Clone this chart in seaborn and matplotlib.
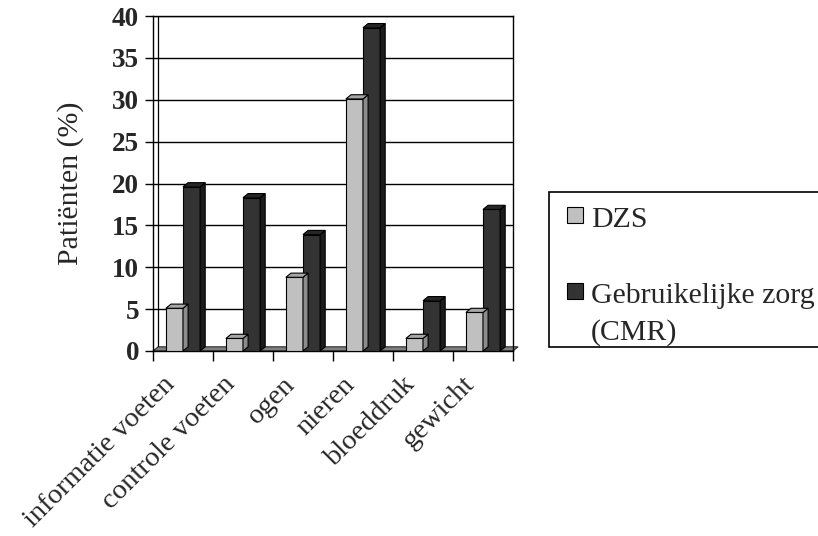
import numpy as np
import pandas as pd
import matplotlib
matplotlib.use('Agg')
import matplotlib.pyplot as plt
import seaborn as sns
from matplotlib.patches import Polygon, Rectangle

sns.set_style('white')
plt.rcParams['font.family'] = ['Liberation Serif', 'DejaVu Serif']

categories = ['informatie voeten', 'controle voeten', 'ogen', 'nieren', 'bloeddruk', 'gewicht']
series = ['DZS', 'Gebruikelijke zorg\n(CMR)']
dzs = [5.1, 1.5, 8.8, 30.1, 1.5, 4.6]
cmr = [19.6, 18.3, 13.9, 38.6, 6.0, 16.9]
y_ticks = [0, 5, 10, 15, 20, 25, 30, 35, 40]

colors = ['#c0c0c0', '#333333']
side_colors = ['#8c8c8c', '#1c1c1c']
top_colors = ['#a6a6a6', '#262626']

df = pd.DataFrame({
    'cat': categories * 2,
    'serie': [series[0]] * len(categories) + [series[1]] * len(categories),
    'val': dzs + cmr,
})

fig = plt.figure(figsize=(8.18, 5.36), dpi=100)
ax = fig.add_axes([153 / 818, 1 - 351 / 536, 360 / 818, 335 / 536])

sns.barplot(data=df, x='cat', y='val', hue='serie', order=categories, hue_order=series,
            palette=colors, width=0.57, edgecolor='black', linewidth=0.8,
            legend=False, ax=ax, zorder=3)

ax.set_xlim(-0.5, 5.5)
ax.set_ylim(0, 40)

# pseudo 3D depth offsets (data units)
dx, dy = 0.085, 0.5

# side and top faces for each bar
for s, cont in enumerate(ax.containers):
    for p in cont:
        x0 = p.get_x()
        x1 = x0 + p.get_width()
        h = p.get_height()
        ax.add_patch(Polygon([(x1, 0), (x1 + dx, dy), (x1 + dx, h + dy), (x1, h)], closed=True,
                             facecolor=side_colors[s], edgecolor='black', linewidth=0.8, zorder=3))
        ax.add_patch(Polygon([(x0, h), (x0 + dx, h + dy), (x1 + dx, h + dy), (x1, h)], closed=True,
                             facecolor=top_colors[s], edgecolor='black', linewidth=0.8, zorder=3))

# floor
ax.add_patch(Polygon([(-0.5, 0), (5.5, 0), (5.5 + dx, dy), (-0.5 + dx, dy)], closed=True,
                     facecolor='#7f7f7f', edgecolor='black', linewidth=0.6, zorder=2, clip_on=False))
# back wall left edge
ax.plot([-0.5 + dx, -0.5 + dx], [dy, 40], color='black', linewidth=0.9, zorder=1)

ax.set_yticks(y_ticks)
ax.set_yticklabels([str(t) for t in y_ticks], fontsize=19.5, fontweight='bold')
ax.yaxis.grid(True, color='black', linewidth=1.0, zorder=0)
ax.set_axisbelow(True)

# category labels sit a bit left of the category centre, as in the original
ax.set_xticks(np.arange(len(categories)) - 0.35)
ax.set_xticklabels(categories, rotation=45, ha='right', rotation_mode='anchor', fontsize=20.5)
ax.set_xticks(np.arange(-0.5, 5.6, 1), minor=True)
ax.tick_params(axis='x', which='major', length=0, pad=15)
ax.tick_params(axis='x', which='minor', length=7, width=1, color='black', direction='out', bottom=True)
ax.tick_params(axis='y', length=6, width=1, color='black', direction='out', left=True, pad=4)

for sp in ax.spines.values():
    sp.set_color('black')
    sp.set_linewidth(1.0)

ax.set_xlabel('')
ax.set_ylabel('Patiënten (%)', fontsize=21.5, labelpad=20)

# legend box drawn in pixel coordinates
lax = fig.add_axes([0, 0, 1, 1], zorder=5)
lax.set_xlim(0, 818)
lax.set_ylim(536, 0)
lax.axis('off')
lax.add_patch(Rectangle((549, 192), 300, 155, facecolor='white', edgecolor='black', linewidth=1.2))
lax.add_patch(Rectangle((567, 207), 16, 16, facecolor=colors[0], edgecolor='black', linewidth=0.8))
lax.add_patch(Rectangle((567, 283), 16, 16, facecolor=colors[1], edgecolor='black', linewidth=0.8))
lax.text(591, 227, series[0], fontsize=21.5, va='baseline', ha='left')
lax.text(591, 303, series[1].split('\n')[0], fontsize=21.5, va='baseline', ha='left')
lax.text(591, 340, series[1].split('\n')[1], fontsize=21.5, va='baseline', ha='left')

fig.savefig('out.png', dpi=100)
